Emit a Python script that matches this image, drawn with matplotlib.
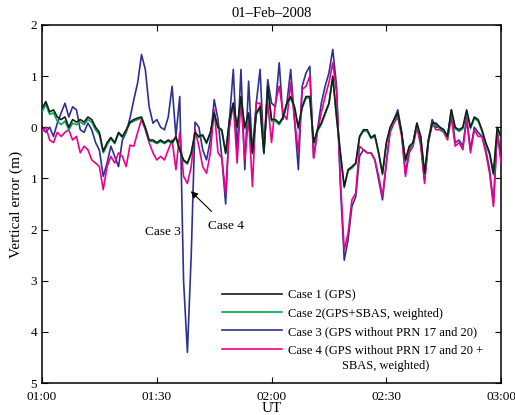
import numpy as np
import matplotlib
matplotlib.use("Agg")
import matplotlib.pyplot as plt

plt.rcParams['font.family'] = ['Liberation Serif', 'DejaVu Serif']

# minutes after 01:00 UT, one sample per minute
minutes = np.arange(0, 121)

case1 = [0.37, 0.5, 0.3, 0.34, 0.2, 0.15, 0.2, 0.0, 0.15, 0.1,
         0.15, 0.1, 0.2, 0.15, 0.0, -0.1, -0.47, -0.3, -0.2, -0.3,
         -0.1, -0.18, -0.05, 0.1, 0.15, 0.18, 0.2, 0.0, -0.25, -0.25,
         -0.3, -0.25, -0.3, -0.25, -0.3, -0.18, -0.44, -0.64, -0.7, -0.5,
         -0.1, -0.18, -0.15, -0.3, -0.1, 0.28, 0.0, -0.05, -0.5, 0.15,
         0.47, 0.0, 0.6, 0.0, 0.28, -0.5, 0.28, 0.4, -0.5, 0.8,
         0.15, 0.15, 0.08, 0.2, 0.47, 0.6, 0.4, 0.0, 0.4, 0.6,
         0.6, -0.3, -0.05, 0.08, 0.28, 0.47, 1.0, 0.2, -0.5, -1.16,
         -0.83, -0.77, -0.7, -0.18, -0.05, -0.05, -0.2, -0.15, -0.5, -0.9,
         -0.3, 0.0, 0.15, 0.28, -0.1, -0.64, -0.37, -0.3, 0.08, -0.18,
         -0.9, -0.25, 0.08, 0.08, 0.0, -0.05, -0.18, 0.34, 0.0, -0.05,
         0.0, 0.34, 0.0, 0.2, 0.15, -0.05, -0.3, -0.5, -0.9, 0.0,
         -0.18]

case2 = [0.3, 0.45, 0.25, 0.28, 0.12, 0.05, 0.12, -0.05, 0.08, 0.05,
         0.1, 0.05, 0.15, 0.1, -0.05, -0.15, -0.5, -0.35, -0.22, -0.32,
         -0.12, -0.2, -0.08, 0.08, 0.12, 0.15, 0.18, -0.02, -0.27, -0.28,
         -0.32, -0.28, -0.32, -0.27, -0.32, -0.2, -0.46, -0.66, -0.72, -0.52,
         -0.12, -0.2, -0.17, -0.32, -0.12, 0.25, -0.02, -0.08, -0.52, 0.12,
         0.45, -0.03, 0.57, -0.03, 0.25, -0.52, 0.25, 0.37, -0.52, 0.77,
         0.12, 0.12, 0.05, 0.18, 0.45, 0.57, 0.37, -0.03, 0.37, 0.57,
         0.57, -0.32, -0.08, 0.05, 0.25, 0.45, 0.97, 0.17, -0.53, -1.18,
         -0.85, -0.8, -0.72, -0.2, -0.08, -0.08, -0.22, -0.18, -0.52, -0.93,
         -0.32, -0.03, 0.12, 0.25, -0.12, -0.67, -0.4, -0.33, 0.05, -0.2,
         -0.93, -0.28, 0.05, 0.05, -0.03, -0.08, -0.2, 0.3, -0.03, -0.08,
         -0.03, 0.3, -0.03, 0.17, 0.12, -0.08, -0.33, -0.53, -0.93, -0.03,
         -0.2]

case3 = [0.0, -0.1, 0.0, -0.18, 0.08, 0.28, 0.47, 0.2, 0.4, 0.34,
         -0.05, -0.1, 0.08, -0.05, -0.3, -0.45, -0.96, -0.7, -0.37, -0.57,
         -0.77, -0.25, -0.1, 0.18, 0.54, 0.87, 1.42, 1.13, 0.4, 0.08,
         0.15, 0.0, -0.05, 0.2, 0.8, -0.18, 0.6, -3.0, -4.4, -2.5,
         0.1, 0.0, -0.44, -0.64, -0.25, 0.54, 0.15, -0.6, -1.5, 0.15,
         1.13, -0.5, 1.13, -0.83, 0.9, -0.5, 0.47, 1.13, -0.5, 0.93,
         0.47, 0.4, 1.26, 0.15, 0.47, 1.13, 0.15, -0.83, 0.8, 1.06,
         1.19, -0.6, -0.05, 0.47, 0.8, 1.06, 1.52, 0.8, -1.16, -2.6,
         -2.2, -1.55, -1.36, -0.57, -0.44, -0.5, -0.5, -0.64, -1.03, -1.42,
         -0.7, -0.05, 0.15, 0.34, -0.1, -0.9, -0.44, -0.3, 0.08, -0.3,
         -1.03, -0.25, 0.15, 0.0, 0.0, -0.05, -0.18, 0.34, -0.3, -0.25,
         -0.37, 0.2, -0.44, 0.0, -0.1, -0.18, -0.44, -0.83, -1.49, -0.05,
         -0.64]

case4 = [-0.08, 0.0, -0.25, -0.3, -0.1, -0.18, -0.1, -0.05, -0.25, -0.18,
         -0.5, -0.37, -0.44, -0.64, -0.7, -0.77, -1.22, -0.77, -0.57, -0.7,
         -0.5, -0.57, -0.77, -0.35, -0.37, -0.1, 0.15, -0.05, -0.3, -0.5,
         -0.64, -0.57, -0.64, -0.44, -0.25, -0.83, -0.1, -0.96, -1.1, -0.77,
         -0.05, -0.37, -0.77, -0.9, -0.5, 0.34, -0.5, -0.6, -1.3, 0.0,
         0.47, -0.7, 0.54, -0.64, 0.2, -1.16, 0.47, 0.47, -0.37, 0.47,
         -0.3, 0.47, 0.8, 0.28, 0.15, 0.87, 0.15, -0.5, 0.74, 0.8,
         1.0, -0.6, -0.1, 0.28, 0.6, 0.87, 1.26, 0.67, -1.03, -2.4,
         -2.07, -1.42, -1.29, -0.37, -0.44, -0.5, -0.5, -0.64, -0.96, -1.36,
         -0.7, -0.1, 0.08, 0.2, -0.18, -0.96, -0.5, -0.37, 0.0, -0.37,
         -1.1, -0.3, 0.08, -0.05, -0.05, -0.1, -0.25, 0.2, -0.37, -0.3,
         -0.44, 0.15, -0.5, -0.05, -0.18, -0.18, -0.5, -0.9, -1.55, -0.1,
         -0.7]

labels = ['Case 1 (GPS)',
          'Case 2(GPS+SBAS, weighted)',
          'Case 3 (GPS without PRN 17 and 20)',
          'Case 4 (GPS without PRN 17 and 20 +\nSBAS, weighted)']
colors = ['#1a1a1a', '#00a651', '#2e3192', '#ec008c']

xticks = [0, 30, 60, 90, 120]
xticklabels = ['01:00', '01:30', '02:00', '02:30', '03:00']
yticks = [-5, -4, -3, -2, -1, 0, 1, 2]
yticklabels = ['5', '4', '3', '2', '1', '0', '1', '2']

fig = plt.figure(figsize=(5.15, 4.15), dpi=100)
ax = fig.add_axes([0.0816, 0.077, 0.8914, 0.863])

series = [case1, case2, case3, case4]
zorders = [5, 4, 2, 3]
for vals, lab, col, z in zip(series, labels, colors, zorders):
    ax.plot(minutes, vals, color=col, lw=1.2, label=lab, zorder=z)

ax.set_xlim(0, 120)
ax.set_ylim(-5, 2)
ax.set_xticks(xticks)
ax.set_xticklabels(xticklabels)
ax.set_yticks(yticks)
ax.set_yticklabels(yticklabels)
ax.tick_params(direction='in', top=True, right=True, length=4, labelsize=9.5)
ax.tick_params(axis='x', pad=6)
for s in ax.spines.values():
    s.set_linewidth(1.1)

ax.set_title('01\u2013Feb\u20132008', fontsize=10.5, pad=6)
ax.set_xlabel('UT', fontsize=11, labelpad=-1)
ax.set_ylabel('Vertical error (m)', fontsize=11, labelpad=5)

ax.text(31.5, -2.05, 'Case 3', fontsize=9.5, ha='center', va='center')
ax.annotate('Case 4', xy=(38.9, -1.25), xytext=(48.2, -1.93),
            fontsize=9.5, ha='center', va='center',
            arrowprops=dict(arrowstyle='-|>', color='black', lw=0.8,
                            shrinkA=6, shrinkB=0, mutation_scale=10))

leg = ax.legend(loc='upper left', bbox_to_anchor=(0.368, 0.293), frameon=False,
                fontsize=9, handlelength=4.75, handletextpad=0.5,
                labelspacing=0.5)
# two-line last entry: centred lines, wider line gap, handle at first line
t4 = leg.get_texts()[3]
t4.set_multialignment('center')
t4.set_linespacing(1.45)
h4 = leg.legend_handles[3]
h4.set_ydata(np.asarray(h4.get_ydata()) + 6.8)

fig.savefig('out.png', dpi=100)
